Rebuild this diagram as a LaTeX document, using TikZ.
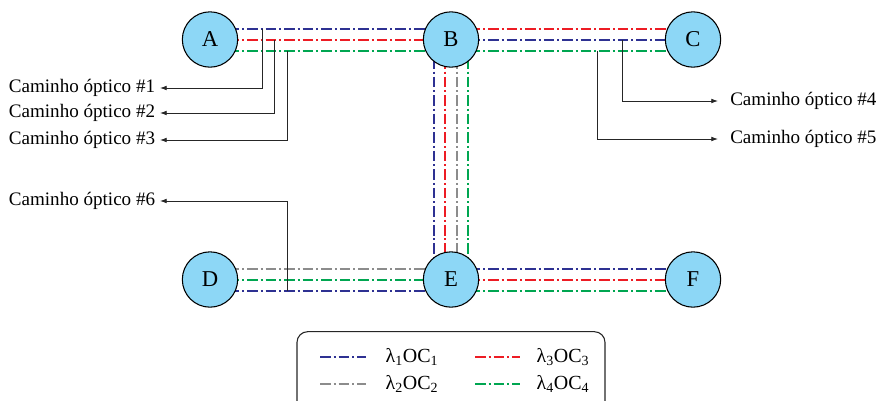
\documentclass[tikz,border=0pt]{standalone}
\usepackage{fontspec}
\setmainfont{Liberation Serif}
\usepackage{tikz}
\usetikzlibrary{arrows.meta,backgrounds}
\definecolor{nodefill}{RGB}{141,215,246}
\definecolor{lblue}{RGB}{46,49,146}
\definecolor{lred}{RGB}{237,28,36}
\definecolor{lgray}{RGB}{140,140,140}
\definecolor{lgreen}{RGB}{0,166,81}

\begin{document}
\begin{tikzpicture}[
  x=0.75pt, y=-0.75pt,
  oxc/.style={circle, draw=black, line width=0.8pt, fill=nodefill,
              minimum size=41.5pt, inner sep=0pt, font=\fontsize{17}{17}\selectfont},
  och/.style={line width=1.5pt, dash pattern=on 8pt off 2.2pt on 1.5pt off 2.2pt},
  lead/.style={-{Latex[length=5pt,width=3.5pt]}, line width=0.6pt, draw=black!85},
  lbl/.style={font=\fontsize{14.3}{16}\selectfont, text height=0.66em, text depth=0pt,
              inner sep=3.5pt},
  key/.style={font=\fontsize{15}{17}\selectfont, inner sep=0pt},
]
\useasboundingbox (0,0) rectangle (877,400);

% ===================== nodes =====================
\node[oxc] (A) at (210,39.5)  {A};
\node[oxc] (B) at (451,39.5)  {B};
\node[oxc] (C) at (693,39.5)  {C};
\node[oxc] (D) at (210,279.5) {D};
\node[oxc] (E) at (451,279.5) {E};
\node[oxc] (F) at (693,279.5) {F};

% ===================== wavelength channels =====================
\begin{scope}[on background layer]
% A -- B
\draw[och, lblue]  ([yshift=8.25pt]A.center)  -- ([yshift=8.25pt]B.center);
\draw[och, lred]   (A.center)                 -- (B.center);
\draw[och, lgreen] ([yshift=-8.25pt]A.center) -- ([yshift=-8.25pt]B.center);
% B -- C
\draw[och, lred]   ([yshift=8.25pt]B.center)  -- ([yshift=8.25pt]C.center);
\draw[och, lblue]  (B.center)                 -- (C.center);
\draw[och, lgreen] ([yshift=-8.25pt]B.center) -- ([yshift=-8.25pt]C.center);
% B -- E
\draw[och, lblue]  ([xshift=-12.75pt]B.center) -- ([xshift=-12.75pt]E.center);
\draw[och, lred]   ([xshift=-4.25pt]B.center)  -- ([xshift=-4.25pt]E.center);
\draw[och, lgray]  ([xshift=4.25pt]B.center)   -- ([xshift=4.25pt]E.center);
\draw[och, lgreen] ([xshift=12.75pt]B.center)  -- ([xshift=12.75pt]E.center);
% D -- E
\draw[och, lgray]  ([yshift=8.25pt]D.center)  -- ([yshift=8.25pt]E.center);
\draw[och, lgreen] (D.center)                 -- (E.center);
\draw[och, lblue]  ([yshift=-8.25pt]D.center) -- ([yshift=-8.25pt]E.center);
% E -- F
\draw[och, lblue]  ([yshift=8.25pt]E.center)  -- ([yshift=8.25pt]F.center);
\draw[och, lred]   (E.center)                 -- (F.center);
\draw[och, lgreen] ([yshift=-8.25pt]E.center) -- ([yshift=-8.25pt]F.center);
\end{scope}

% ===================== lightpath labels =====================
\node[lbl, anchor=east] (cam1) at (160,88)  {Caminho óptico \#1};
\node[lbl, anchor=east] (cam2) at (160,113) {Caminho óptico \#2};
\node[lbl, anchor=east] (cam3) at (160,140) {Caminho óptico \#3};
\node[lbl, anchor=east] (cam6) at (160,201) {Caminho óptico \#6};
\node[lbl, anchor=west, inner xsep=9pt] (cam4) at (718,101) {Caminho óptico \#4};
\node[lbl, anchor=west, inner xsep=9pt] (cam5) at (718,139) {Caminho óptico \#5};

% taps on the channels
\coordinate (t1) at (262,28.5);
\coordinate (t2) at (274,39.5);
\coordinate (t3) at (287,50.5);
\coordinate (t4) at (622,39.5);
\coordinate (t5) at (597,50.5);
\coordinate (t6) at (287,290.5);

\draw[lead] (t1) |- (cam1.east);
\draw[lead] (t2) |- (cam2.east);
\draw[lead] (t3) |- (cam3.east);
\draw[lead] (t6) |- (cam6.east);
\draw[lead] (t4) |- (cam4.west);
\draw[lead] (t5) |- (cam5.west);

% ===================== legend =====================
\node[draw=black!85, line width=0.8pt, rounded corners=8pt,
      minimum width=231pt, minimum height=62pt] (legend) at (451,373) {};

\draw[och, lblue]  (320,357) -- (366,357);
\draw[och, lgray]  (320,384) -- (366,384);
\draw[och, lred]   (475,357) -- (520,357);
\draw[och, lgreen] (475,384) -- (520,384);

\node[key] (k1) at (412,357) {λ\textsubscript{1}OC\textsubscript{1}};
\node[key] (k2) at (412,384) {λ\textsubscript{2}OC\textsubscript{2}};
\node[key] (k3) at (563,357) {λ\textsubscript{3}OC\textsubscript{3}};
\node[key] (k4) at (563,384) {λ\textsubscript{4}OC\textsubscript{4}};

\end{tikzpicture}
\end{document}
